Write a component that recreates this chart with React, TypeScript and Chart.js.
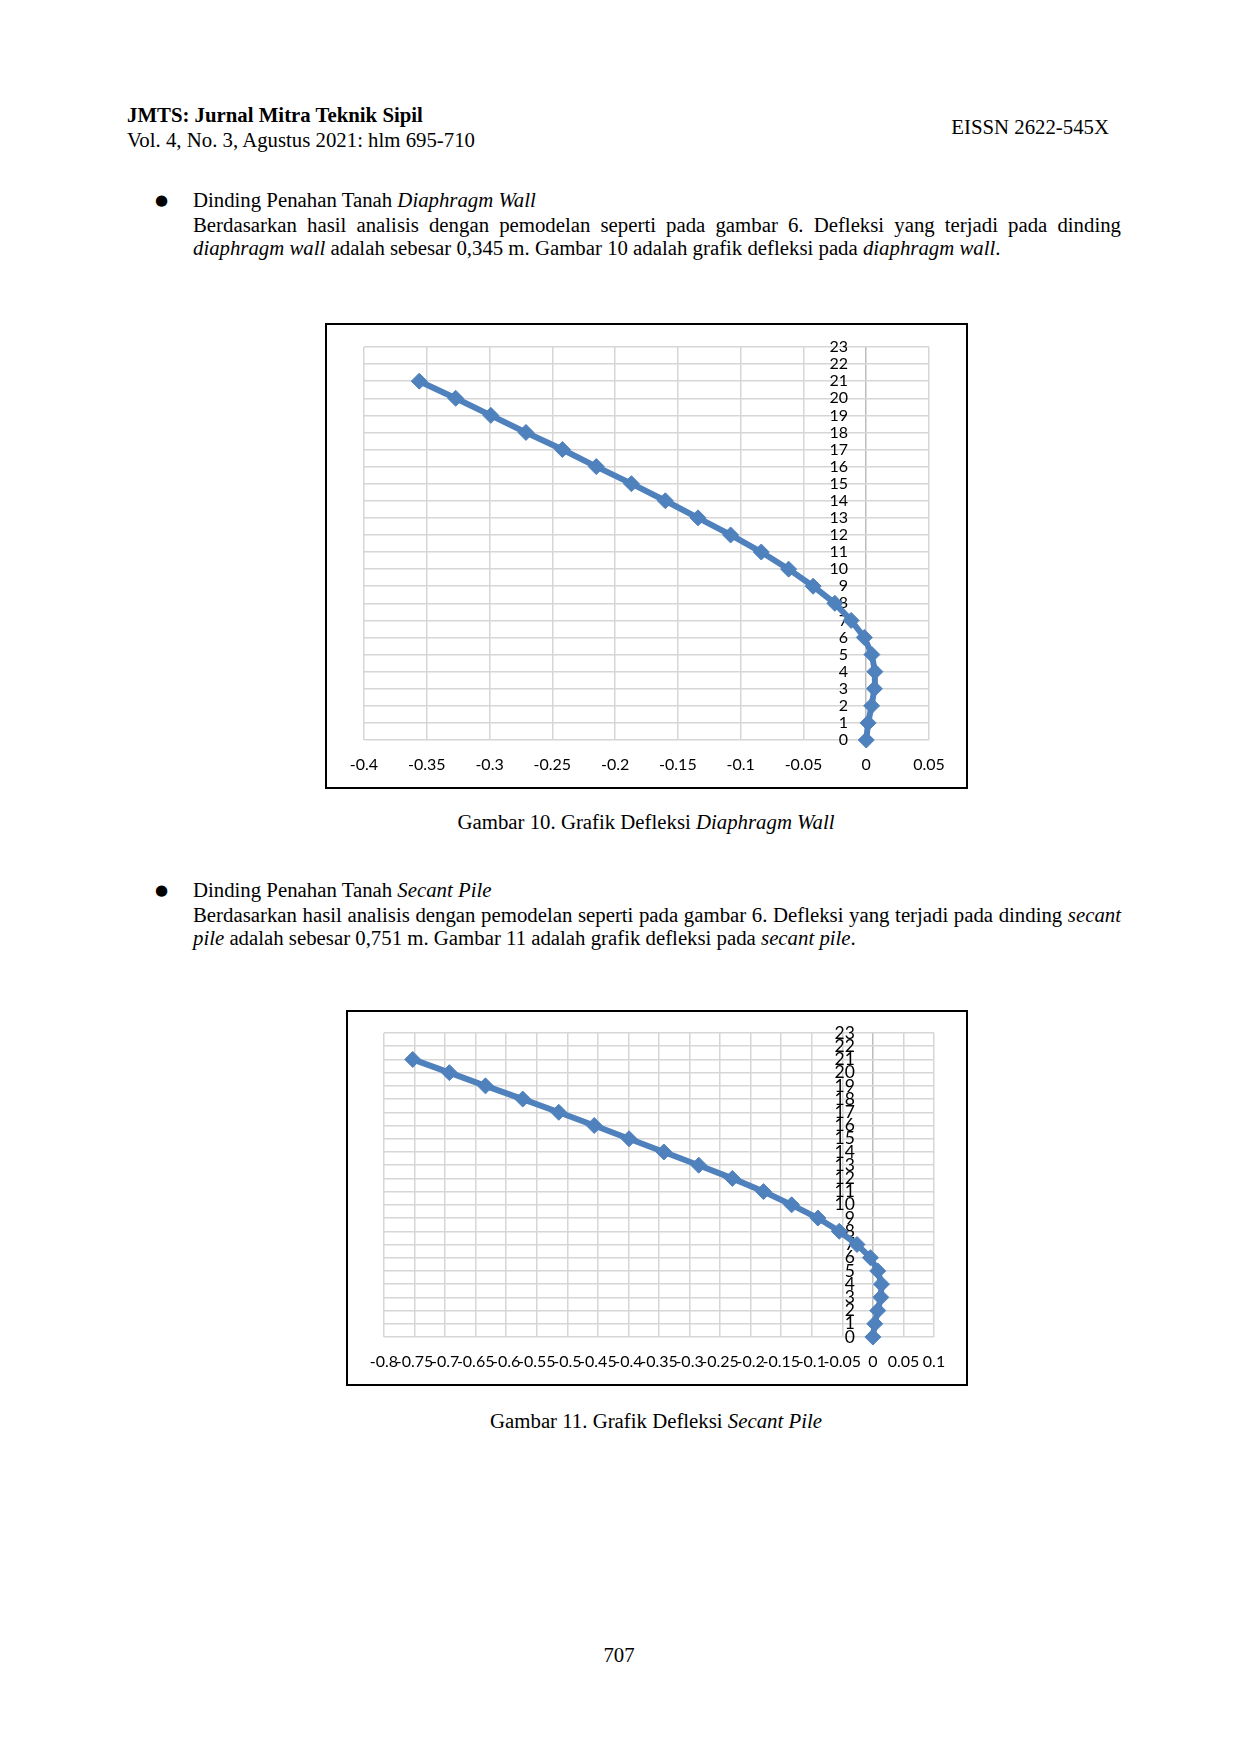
import { useEffect, useRef } from "react";
import { Chart, registerables } from "chart.js";

Chart.register(...registerables);

// depth levels (y) and wall deflection in metres (x)
const depthLevels = [0, 1, 2, 3, 4, 5, 6, 7, 8, 9, 10, 11, 12, 13, 14, 15, 16, 17, 18, 19, 20, 21];
const deflectionDiaphragmWall = [
  0, 0.0015, 0.0043, 0.0065, 0.0069, 0.0045, -0.0015, -0.012, -0.025, -0.0423, -0.0618,
  -0.0836, -0.108, -0.134, -0.16, -0.187, -0.215, -0.242, -0.271, -0.299, -0.327, -0.356,
];
const deflectionSecantPile = [
  0, 0.003, 0.008, 0.013, 0.014, 0.008, -0.004, -0.026, -0.055, -0.09, -0.133,
  -0.179, -0.23, -0.285, -0.342, -0.399, -0.456, -0.514, -0.573, -0.634, -0.693, -0.753,
];

const LINE_BLUE = "#4F81BD";
const GRID_GREY = "#D6D6D6";
const TICK_FONT = "Lato, 'Open Sans', sans-serif";
const SERIF = "'Liberation Serif', 'Times New Roman', serif";

type ChartProps = {
  values: number[];
  xMin: number;
  xMax: number;
  yAxisAt: number; // where the depth labels end (value on x scale)
  width: number;
  height: number;
  pad: { left: number; right: number; top: number };
  yFontSize: number;
};

function DeflectionChart({ values, xMin, xMax, yAxisAt, width, height, pad, yFontSize }: ChartProps) {
  const canvasRef = useRef<HTMLCanvasElement>(null);

  useEffect(() => {
    if (!canvasRef.current) return;
    const points = depthLevels.map((d, i) => ({ x: values[i], y: d }));

    const chart = new Chart(canvasRef.current, {
      type: "scatter",
      data: {
        datasets: [
          {
            data: points,
            showLine: true,
            clip: false,
            borderColor: LINE_BLUE,
            backgroundColor: LINE_BLUE,
            borderWidth: 6,
            pointStyle: "rectRot",
            pointRadius: 8,
            pointBorderWidth: 1,
            pointBorderColor: LINE_BLUE,
            pointHoverRadius: 8,
          },
        ],
      },
      options: {
        animation: false,
        responsive: false,
        events: [],
        layout: { padding: { left: pad.left, right: pad.right, top: pad.top, bottom: 0 } },
        plugins: { legend: { display: false }, tooltip: { enabled: false } },
        scales: {
          x: {
            type: "linear",
            position: "bottom",
            min: xMin,
            max: xMax,
            afterFit: (scale: any) => {
              scale.height = 47;
            },
            grid: {
              color: (ctx: any) => (ctx.tick && Math.abs(ctx.tick.value) < 1e-9 ? "#BDBDBD" : GRID_GREY),
              lineWidth: 1.5,
              drawTicks: false,
            },
            border: { display: false },
            ticks: {
              stepSize: 0.05,
              autoSkip: false,
              maxRotation: 0,
              minRotation: 0,
              padding: 15,
              color: "#000",
              font: { family: TICK_FONT, size: 16 },
              callback: (v: any) => String(Number(Number(v).toFixed(2))),
            },
          },
          y: {
            type: "linear",
            position: { x: yAxisAt } as any,
            min: 0,
            max: 23,
            grid: { color: GRID_GREY, lineWidth: 1.5, drawTicks: false },
            border: { display: false },
            ticks: {
              stepSize: 1,
              autoSkip: false,
              padding: 0,
              color: "#000",
              font: { family: TICK_FONT, size: yFontSize },
            },
          },
        },
      },
    });

    return () => {
      chart.destroy();
    };
  }, [values, xMin, xMax, yAxisAt, pad, yFontSize]);

  return <canvas ref={canvasRef} width={width} height={height} style={{ display: "block", width, height }} />;
}

const textLine = (top: number, extra: React.CSSProperties = {}): React.CSSProperties => ({
  position: "absolute",
  top,
  left: 193,
  width: 928,
  fontFamily: SERIF,
  fontSize: 20.8,
  lineHeight: "24px",
  whiteSpace: "nowrap",
  color: "#000",
  ...extra,
});

const justified: React.CSSProperties = {
  textAlign: "justify",
  textAlignLast: "justify",
  whiteSpace: "normal",
};

const bullet = (top: number): React.CSSProperties => ({
  ...textLine(top),
  left: 155,
  width: 20,
  fontFamily: "'DejaVu Sans', sans-serif",
  fontSize: 15,
});

export default function App() {
  useEffect(() => {
    document.body.style.margin = "0";
  }, []);

  return (
    <div style={{ position: "relative", width: 1240, height: 1754, background: "#fff", overflow: "hidden" }}>
      <div style={{ ...textLine(103), left: 127, fontWeight: "bold" }}>JMTS: Jurnal Mitra Teknik Sipil</div>
      <div style={{ ...textLine(128), left: 127 }}>Vol. 4, No. 3, Agustus 2021: hlm 695-710</div>
      <div style={{ ...textLine(115), left: "auto", right: 131, width: "auto" }}>EISSN 2622-545X</div>

      <div style={bullet(188)}>●</div>
      <div style={textLine(188)}>
        Dinding Penahan Tanah <i>Diaphragm Wall</i>
      </div>
      <div style={{ ...textLine(213), ...justified }}>
        Berdasarkan hasil analisis dengan pemodelan seperti pada gambar 6. Defleksi yang terjadi pada dinding
      </div>
      <div style={textLine(236)}>
        <i>diaphragm wall</i> adalah sebesar 0,345 m. Gambar 10 adalah grafik defleksi pada <i>diaphragm wall</i>.
      </div>

      <div
        style={{
          position: "absolute",
          left: 325,
          top: 323,
          width: 643,
          height: 466,
          border: "2px solid #000",
          boxSizing: "border-box",
        }}
      >
        <DeflectionChart
          values={deflectionDiaphragmWall}
          xMin={-0.4}
          xMax={0.05}
          yAxisAt={-0.0145}
          width={639}
          height={462}
          pad={{ left: 37, right: 37, top: 22 }}
          yFontSize={16}
        />
      </div>
      <div style={{ ...textLine(810), left: 0, width: 1292, textAlign: "center" }}>
        Gambar 10. Grafik Defleksi <i>Diaphragm Wall</i>
      </div>

      <div style={bullet(878)}>●</div>
      <div style={textLine(878)}>
        Dinding Penahan Tanah <i>Secant Pile</i>
      </div>
      <div style={{ ...textLine(903), ...justified }}>
        Berdasarkan hasil analisis dengan pemodelan seperti pada gambar 6. Defleksi yang terjadi pada dinding{" "}
        <i>secant</i>
      </div>
      <div style={textLine(926)}>
        <i>pile</i> adalah sebesar 0,751 m. Gambar 11 adalah grafik defleksi pada <i>secant pile</i>.
      </div>

      <div
        style={{
          position: "absolute",
          left: 346,
          top: 1010,
          width: 622,
          height: 376,
          border: "2px solid #000",
          boxSizing: "border-box",
        }}
      >
        <DeflectionChart
          values={deflectionSecantPile}
          xMin={-0.8}
          xMax={0.1}
          yAxisAt={-0.0296}
          width={618}
          height={372}
          pad={{ left: 36, right: 32, top: 21 }}
          yFontSize={17.5}
        />
      </div>
      <div style={{ ...textLine(1409), left: 0, width: 1312, textAlign: "center" }}>
        Gambar 11. Grafik Defleksi <i>Secant Pile</i>
      </div>

      <div style={{ ...textLine(1643), left: 0, width: 1238, textAlign: "center" }}>707</div>
    </div>
  );
}
